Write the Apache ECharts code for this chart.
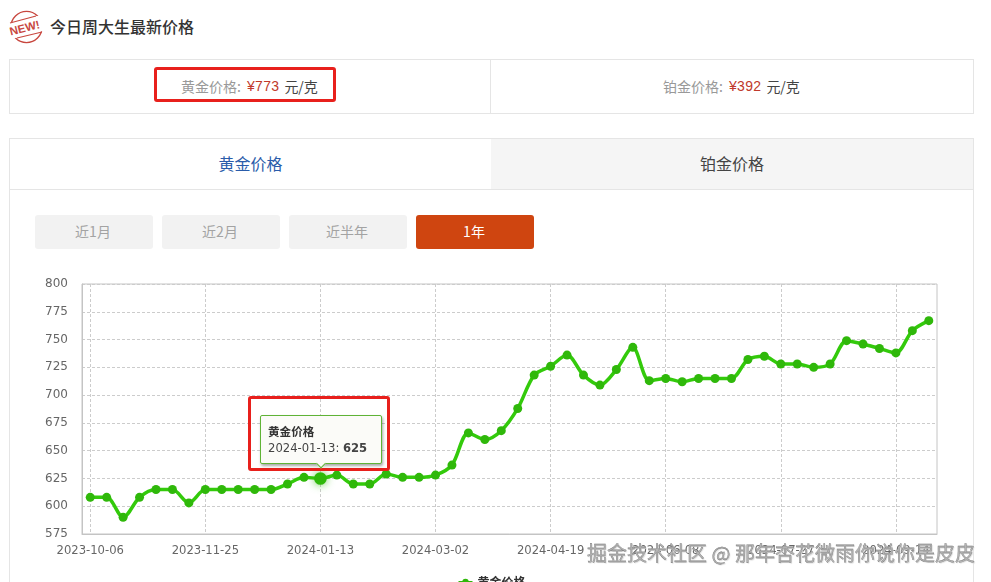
<!DOCTYPE html>
<html lang="zh"><head><meta charset="utf-8">
<script src="https://cdn.jsdelivr.net/npm/echarts@6/dist/echarts.min.js"></script>
<style>
html,body{margin:0;padding:0;background:#fff;width:991px;height:582px;overflow:hidden;font-family:"Noto Sans CJK SC","Noto Sans",sans-serif}
.a{position:absolute;box-sizing:border-box}
.c{display:flex;align-items:center;justify-content:center;white-space:pre}
.btn{top:215px;width:118px;height:34px;padding:0 2px 2px 0;background:#f2f2f2;color:#a3a3a3;font-size:14px;border-radius:3px}
.red{border:3px solid #e8201c;border-radius:3px;z-index:20000;pointer-events:none}
.g{color:#999}.r{color:#c0392b;font-family:"Liberation Sans";letter-spacing:.3px;margin:0 5px 0 6px}.k{color:#444}
</style></head><body>
<svg class="a" style="left:9px;top:10px" width="36" height="34" viewBox="0 0 36 34">
<circle cx="17.5" cy="17" r="15.6" fill="none" stroke="#c8473f" stroke-width="1.4"/>
<rect x="0" y="9" width="35" height="16" fill="#fff" transform="rotate(-14 17 17)"/>
<path d="M1 13 L27 6 M8 28 L33 22" stroke="#c8473f" stroke-width="1.2" fill="none"/>
<text x="15.5" y="21.5" text-anchor="middle" font-size="11.5" font-weight="700" fill="#c8473f" font-family="Liberation Sans" transform="rotate(-14 17 17)">NEW!</text>
</svg>
<div class="a" style="left:50px;top:14px;font-size:16px;line-height:24px;font-weight:500;color:#333">今日周大生最新价格</div>

<div class="a" style="left:9px;top:59px;width:965px;height:55px;border:1px solid #e5e5e5"></div>
<div class="a" style="left:490px;top:59px;width:1px;height:55px;background:#e5e5e5"></div>
<div class="a c" style="left:9px;top:58px;width:481px;height:55px;font-size:14px"><span class="g">黄金价格:</span><span class="r">¥773</span><span class="k">元/克</span></div>
<div class="a c" style="left:490px;top:58px;width:483px;height:55px;font-size:14px"><span class="g">铂金价格:</span><span class="r">¥392</span><span class="k">元/克</span></div>
<div class="a red" style="left:154px;top:67px;width:182px;height:35px"></div>

<div class="a" style="left:9px;top:138px;width:965px;height:445px;border:1px solid #e5e5e5"></div>
<div class="a c" style="left:10px;top:138px;width:481px;height:50px;font-size:16px;color:#2a5caa">黄金价格</div>
<div class="a c" style="left:491px;top:139px;width:482px;height:50px;font-size:16px;color:#444;background:#f5f5f5;padding-bottom:2px">铂金价格</div>
<div class="a" style="left:10px;top:189px;width:963px;height:1px;background:#e5e5e5"></div>
<div class="a c btn" style="left:35px">近1月</div>
<div class="a c btn" style="left:162px">近2月</div>
<div class="a c btn" style="left:289px">近半年</div>
<div class="a c btn" style="left:416px;background:#cf4510;color:#fff">1年</div>

<div id="chart" class="a" style="left:10px;top:260px;width:963px;height:322px"></div>
<div class="a red" style="left:248px;top:396px;width:142px;height:75px"></div>
<div class="a" style="left:587px;top:540px;font-size:20px;line-height:26px;white-space:pre;color:#b4b4b4;z-index:20001;-webkit-text-stroke:0.3px #6e6e6e;text-shadow:1px 1px 1px #ddd">掘金技术社区 @ 那年杏花微雨你说你是皮皮</div>
<script>
const seriesName = '黄金价格';
const categories = ['2023-10-06','2023-10-13','2023-10-20','2023-10-27','2023-11-03','2023-11-10','2023-11-17','2023-11-25','2023-12-02','2023-12-09','2023-12-16','2023-12-23','2023-12-30','2024-01-06','2024-01-13','2024-01-20','2024-01-27','2024-02-03','2024-02-10','2024-02-17','2024-02-24','2024-03-02','2024-03-09','2024-03-16','2024-03-23','2024-03-30','2024-04-06','2024-04-13','2024-04-19','2024-04-27','2024-05-04','2024-05-11','2024-05-18','2024-05-25','2024-06-01','2024-06-08','2024-06-15','2024-06-22','2024-06-29','2024-07-06','2024-07-13','2024-07-20','2024-07-27','2024-08-03','2024-08-10','2024-08-17','2024-08-24','2024-08-31','2024-09-07','2024-09-14','2024-09-21','2024-09-28'];
const goldPrices = [608,608,590,608,615,615,603,615,615,615,615,615,620,626,625,628,620,620,629,626,626,628,637,666,660,668,688,718,726,736,718,709,723,743,713,715,712,715,715,715,732,735,728,728,725,728,749,746,742,738,758,767];
const yMin = 575, yMax = 800, yStep = 25;
const focusIndex = 14;
const green = '#2fb80a';
const chart = echarts.init(document.getElementById('chart'));
chart.setOption({
  animation:false,
  textStyle:{fontFamily:'"DejaVu Sans"'},
  grid:{left:72,right:36,top:24,bottom:48,show:true,borderColor:'#c4c4c4',borderWidth:1,backgroundColor:'transparent'},
  legend:{show:true,data:[seriesName],bottom:-11,left:'center',itemWidth:14,itemHeight:8,textStyle:{color:'#333',fontSize:12,fontWeight:'bold',fontFamily:'"Noto Sans CJK SC"'}},
  tooltip:{trigger:'item',alwaysShowContent:true,showDelay:0,transitionDuration:0,
    position:'top',backgroundColor:'#fbfbf8',borderColor:'#5fb336',borderWidth:1,padding:[7,7],
    textStyle:{color:'#444',fontSize:11.6,fontFamily:'"DejaVu Sans","Noto Sans CJK SC"'},
    extraCssText:'box-shadow:1px 2px 3px rgba(0,0,0,.35);border-radius:2px;line-height:16px;width:122px;margin-left:1px;box-sizing:border-box;white-space:nowrap;',
    formatter:p=>`<b style="color:#333;font-family:'Noto Sans CJK SC'">${p.seriesName}</b><br>${p.name}: <b>${p.value}</b>`},
  xAxis:{type:'category',data:categories,boundaryGap:true,
    axisLine:{lineStyle:{color:'#c4c4c4'}},
    axisTick:{alignWithLabel:true,interval:6,lineStyle:{color:'#c4c4c4'},length:6},
    axisLabel:{interval:6,color:'#666',fontSize:11.6,margin:11,hideOverlap:false},
    splitLine:{show:true,interval:6,alignWithLabel:true,lineStyle:{type:[3,2],color:'#cccccc'}}},
  yAxis:{type:'value',min:yMin,max:yMax,interval:yStep,
    axisLine:{show:true,lineStyle:{color:'#c4c4c4'}},
    axisTick:{show:false},
    axisLabel:{color:'#666',fontSize:12,margin:14,padding:[2,0,0,0]},
    splitLine:{show:true,lineStyle:{type:[3,2],color:'#cccccc'}}},
  series:[{name:seriesName,type:'line',data:goldPrices,smooth:0.3,symbol:'circle',symbolSize:9,
    lineStyle:{color:green,width:3.5},itemStyle:{color:green},
    emphasis:{scale:1.4,itemStyle:{color:green,shadowColor:'rgba(47,184,10,.7)',shadowBlur:8}}}]
});
chart.dispatchAction({type:'showTip',seriesIndex:0,dataIndex:focusIndex});
chart.dispatchAction({type:'highlight',seriesIndex:0,dataIndex:focusIndex});
</script>
</body></html>
